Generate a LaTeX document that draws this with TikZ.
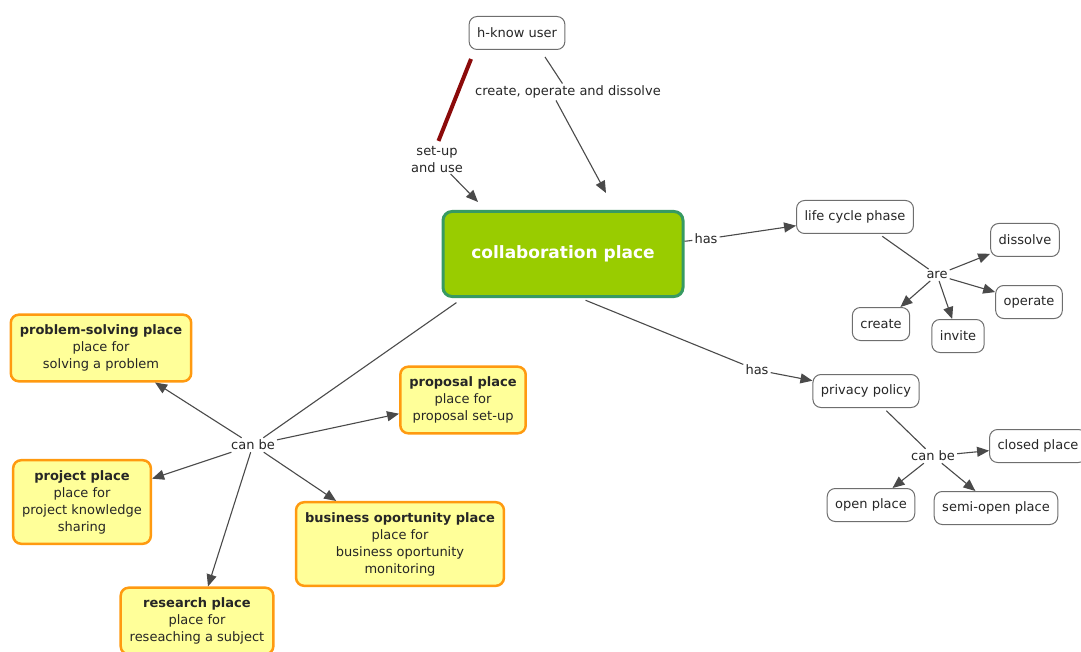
\documentclass[tikz,border=0pt]{standalone}
\usepackage{fontspec}
\setmainfont{DejaVu Sans}
\usetikzlibrary{arrows.meta}
\definecolor{mapgreen}{HTML}{99CC00}
\definecolor{mapteal}{HTML}{379A62}
\definecolor{maporange}{HTML}{FF9A10}
\definecolor{mapyellow}{HTML}{FFFF99}
\definecolor{mapline}{HTML}{4A4A4A}
\definecolor{mapred}{HTML}{8B0A0A}
\tikzset{concept/.style={draw=mapline!80,rounded corners=8pt,line width=1pt,fill=white,
           inner xsep=8pt,minimum height=33pt,text=black!85},
         place/.style={draw=maporange,fill=mapyellow,rounded corners=8pt,line width=2.5pt,
           align=center,inner xsep=9pt,inner ysep=10pt,text=black!85},
         mainplace/.style={draw=mapteal,fill=mapgreen,rounded corners=9pt,line width=3pt,
           minimum width=240pt,minimum height=85pt,text=white,font=\fontsize{17}{20}\selectfont\bfseries},
         linkword/.style={inner sep=2pt,align=center,fill=white,text=black!85},
         link/.style={draw=mapline,line width=1.1pt},
         linkto/.style={link,-{Triangle[length=12pt,width=10pt]}},
         every node/.style={font=\fontsize{13}{17}\selectfont}}

\begin{document}
\begin{tikzpicture}[x=1pt,y=-1pt]
\useasboundingbox (0,0) rectangle (1081,652);
% concepts
\node[concept] (user) at (517,33) {h-know user};
\node[mainplace] (collab) at (563,254) {collaboration place};
\node[concept] (cycle) at (855,217) {life cycle phase};
\node[concept] (dissolve) at (1025,240) {dissolve};
\node[concept] (operate) at (1029,302) {operate};
\node[concept] (create) at (881,324) {create};
\node[concept] (invite) at (958,336) {invite};
\node[concept] (privacy) at (866,391) {privacy policy};
\node[concept] (closed) at (1038,446) {closed place};
\node[concept] (open) at (871,505) {open place};
\node[concept] (semiopen) at (996,508) {semi-open place};
\node[place] (problem) at (101,348) {\textbf{problem-solving place}\\place for\\solving a problem};
\node[place] (proposal) at (463,400) {\textbf{proposal place}\\place for\\proposal set-up};
\node[place] (project) at (82,502) {\textbf{project place}\\place for\\project knowledge\\sharing};
\node[place] (business) at (400,544) {\textbf{business oportunity place}\\place for\\business oportunity\\monitoring};
\node[place] (research) at (197,621) {\textbf{research place}\\place for\\reseaching a subject};
% linking words
\node[linkword] (setup) at (437,160) {set-up\\and use};
\node[linkword] (cod) at (568,92) {create, operate and dissolve};
\node[linkword] (hasA) at (706,239) {has};
\node[linkword] (hasB) at (757,370) {has};
\node[linkword] (are) at (937,275) {are};
\node[linkword] (canbeA) at (253,445) {can be};
\node[linkword] (canbeB) at (933,456) {can be};
\coordinate (redtop) at (471,59);
\coordinate (codtop) at (545,57);
\coordinate (setupend) at (478,202);
\coordinate (codend) at (606,193);
% links
\draw[draw=mapred,line width=4pt,shorten >=4pt] (redtop) -- (setup.north);
\draw[linkto,shorten <=-2pt] (setup) -- (setupend);
\draw[link] (codtop) -- (cod);
\draw[linkto] ([xshift=-12pt]cod.south) -- (codend);
\draw[link] (collab) -- (hasA);
\draw[linkto] (hasA) -- (cycle);
\draw[link,shorten <=4pt] (cycle) -- (are);
\draw[linkto] (are) -- (dissolve);
\draw[linkto] (are) -- (operate);
\draw[linkto] (are) -- (create);
\draw[linkto] (are) -- (invite);
\draw[link,shorten <=6pt] ([xshift=17pt]collab.south) -- (hasB);
\draw[linkto] (hasB) -- (privacy);
\draw[link,shorten <=4pt] (privacy) -- (canbeB);
\draw[linkto] (canbeB) -- (closed);
\draw[linkto] (canbeB) -- (open);
\draw[linkto] (canbeB) -- (semiopen);
\draw[link,shorten <=8pt] ([xshift=-100pt]collab.south) -- (canbeA);
\draw[linkto] (canbeA) -- (proposal);
\draw[linkto] (canbeA) -- (problem);
\draw[linkto] (canbeA) -- (project);
\draw[linkto] (canbeA) -- (research);
\draw[linkto] (canbeA) -- (business);
\end{tikzpicture}
\end{document}
